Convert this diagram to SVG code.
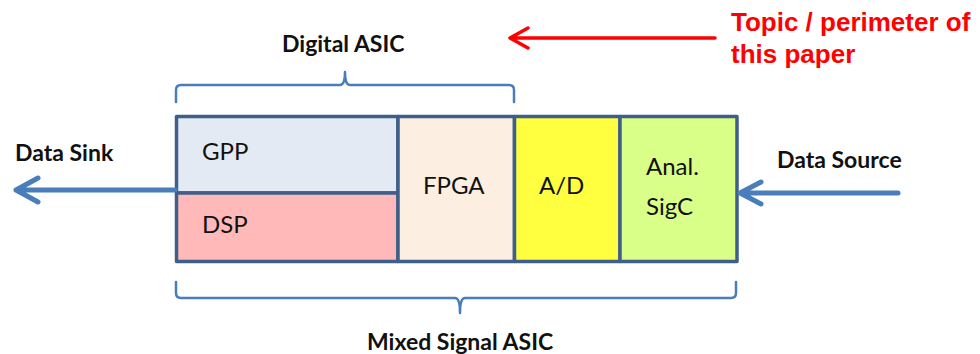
<svg xmlns="http://www.w3.org/2000/svg" width="980" height="354" viewBox="0 0 980 354">
  <style>
    .cell { stroke: #3f5f8a; stroke-width: 3.5; stroke-linejoin: round; }
    .lbl { font-family: Lato, "Liberation Sans", sans-serif; font-size: 24px; fill: #111; }
    .bold { font-family: Lato, "Liberation Sans", sans-serif; font-size: 23px; font-weight: bold; fill: #111; }
    .red { font-family: "Liberation Sans", Arial, sans-serif; font-size: 26px; font-weight: bold; fill: #ff0000; }
    .brace { fill: none; stroke: #4a7ebb; stroke-width: 2.5; stroke-linejoin: round; stroke-linecap: round; }
    .flow { fill: none; stroke: #4a7ebb; stroke-width: 5; stroke-linecap: round; stroke-linejoin: round; }
    .note { fill: none; stroke: #ff0000; stroke-width: 3.5; stroke-linecap: round; stroke-linejoin: round; }
  </style>

  <!-- braces and their captions -->
  <g id="digital-asic">
    <path class="brace" d="M176,102 L176,90 Q176,85 181,85 L340,85 Q345,85 345,72 Q345,85 350,85 L509,85 Q514,85 514,90 L514,102"/>
    <text class="bold" x="282" y="52">Digital ASIC</text>
  </g>
  <g id="mixed-signal-asic">
    <path class="brace" d="M176,282 L176,293 Q176,298 181,298 L455,298 Q460,298 460,313 Q460,298 465,298 L731,298 Q736,298 736,293 L736,282"/>
    <text class="bold" x="367" y="350">Mixed Signal ASIC</text>
  </g>

  <!-- processing chain -->
  <g id="gpp">
    <rect class="cell" x="176.5" y="116.5" width="221.5" height="76.5" fill="#e3eaf4"/>
    <text class="lbl" x="202" y="160">GPP</text>
  </g>
  <g id="dsp">
    <rect class="cell" x="176.5" y="193" width="221.5" height="68.5" fill="#ffb9b9"/>
    <text class="lbl" x="202" y="233">DSP</text>
  </g>
  <g id="fpga">
    <rect class="cell" x="398" y="116.5" width="116.5" height="145" fill="#fdeee2"/>
    <text class="lbl" x="423" y="194">FPGA</text>
  </g>
  <g id="ad">
    <rect class="cell" x="514.5" y="116.5" width="105.5" height="145" fill="#ffff40"/>
    <text class="lbl" x="539" y="194">A/D</text>
  </g>
  <g id="analog-sigc">
    <rect class="cell" x="620" y="116.5" width="117" height="145" fill="#daff88"/>
    <text class="lbl" x="646" y="175">Anal.</text>
    <text class="lbl" x="646" y="215">SigC</text>
  </g>

  <!-- endpoints -->
  <g id="data-sink">
    <text class="bold" x="15" y="161">Data Sink</text>
  </g>
  <g id="data-source">
    <text class="bold" x="777" y="168">Data Source</text>
  </g>
  <g id="topic-note">
    <text class="red" x="731" y="31">Topic / perimeter of</text>
    <text class="red" x="731" y="63">this paper</text>
  </g>

  <!-- connectors -->
  <g id="connectors">
    <path class="flow" d="M175,190 L16,190 M38,178 L16,190 L38,202"/>
    <path class="flow" d="M898,193 L740,193 M761,182 L740,193 L761,204"/>
    <path class="note" d="M715,38 L510,38 M528,28 L510,38 L528,48"/>
  </g>
</svg>
